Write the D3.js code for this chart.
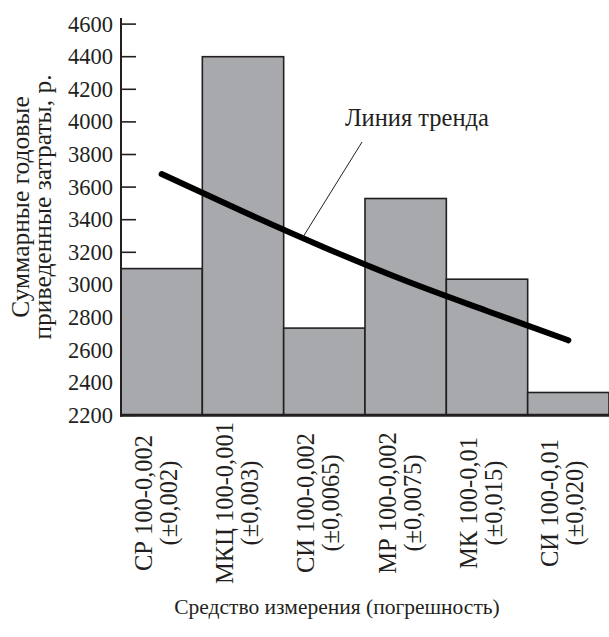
<!DOCTYPE html>
<html>
<head>
<meta charset="utf-8">
<script src="https://cdn.jsdelivr.net/npm/d3@7"></script>
<style>
  html, body { margin: 0; padding: 0; background: #fff; }
  svg { display: block; }
  svg text { font-family: "Liberation Serif", "Times New Roman", "DejaVu Serif", serif; fill: #231f20; }
</style>
</head>
<body>
<div id="chart"></div>
<script>
// ---- data ----
const categories = [
  ["СР 100-0,002", "(±0,002)"],
  ["МКЦ 100-0,001", "(±0,003)"],
  ["СИ 100-0,002", "(±0,0065)"],
  ["МР 100-0,002", "(±0,0075)"],
  ["МК 100-0,01", "(±0,015)"],
  ["СИ 100-0,01", "(±0,020)"]
];
const costs = [3100, 4400, 2735, 3530, 3035, 2340];
const trend = [3680, 3450, 3230, 3025, 2840, 2660];
const yTicks = [2200, 2400, 2600, 2800, 3000, 3200, 3400, 3600, 3800, 4000, 4200, 4400, 4600];
const yTitle = ["Суммарные годовые", "приведенные затраты, р."];
const xTitle = "Средство измерения (погрешность)";
const trendLabel = "Линия тренда";

// ---- layout ----
const W = 609, H = 637;
const mLeft = 121, mRight = 609, mTop = 24.1, mBottom = 415.3;
const FONT = "'Liberation Serif', 'Times New Roman', serif";

const svg = d3.select("#chart").append("svg")
  .attr("width", W).attr("height", H)
  .attr("font-family", FONT);

const x = d3.scaleBand().domain(d3.range(categories.length)).range([mLeft, mRight]).padding(0);
const y = d3.scaleLinear().domain([2200, 4600]).range([mBottom, mTop]);

const ink = "#231f20";

// tick marks (drawn under bars)
svg.append("g").selectAll("line").data(yTicks).join("line")
  .attr("x1", mLeft).attr("x2", mLeft + 15)
  .attr("y1", d => y(d)).attr("y2", d => y(d))
  .attr("stroke", ink).attr("stroke-width", 1.6);

// tick labels
svg.append("g").selectAll("text").data(yTicks).join("text")
  .attr("x", mLeft - 8).attr("y", d => y(d) + 7.5)
  .attr("text-anchor", "end")
  .attr("font-family", FONT)
  .attr("font-size", 22.5)
  .text(d => d);

// bars
svg.append("g").selectAll("rect").data(costs).join("rect")
  .attr("x", (d, i) => x(i))
  .attr("y", d => y(d))
  .attr("width", x.bandwidth())
  .attr("height", d => y(2200) - y(d))
  .attr("fill", "#a7a9ac")
  .attr("stroke", ink)
  .attr("stroke-width", 1.6);

// axes lines
svg.append("line").attr("x1", mLeft).attr("x2", mLeft).attr("y1", mTop - 6).attr("y2", mBottom + 1.5)
  .attr("stroke", ink).attr("stroke-width", 2);
svg.append("line").attr("x1", mLeft - 1).attr("x2", mRight).attr("y1", mBottom).attr("y2", mBottom)
  .attr("stroke", ink).attr("stroke-width", 3);

// trend line
const line = d3.line()
  .x((d, i) => x(i) + x.bandwidth() / 2)
  .y(d => y(d))
  .curve(d3.curveMonotoneX);
svg.append("path").datum(trend)
  .attr("d", line)
  .attr("fill", "none")
  .attr("stroke", "#000")
  .attr("stroke-width", 6)
  .attr("stroke-linecap", "round");

// trend annotation
svg.append("line")
  .attr("x1", 362).attr("y1", 142).attr("x2", 303).attr("y2", 237)
  .attr("stroke", ink).attr("stroke-width", 1);
svg.append("text")
  .attr("x", 345).attr("y", 126)
  .attr("font-family", FONT)
  .attr("font-size", 24.5)
  .text(trendLabel);

// x category labels (rotated)
const xl = svg.append("g").selectAll("text").data(categories).join("text")
  .attr("transform", (d, i) => `translate(${x(i) + x.bandwidth() / 2},503) rotate(-90)`)
  .attr("text-anchor", "middle")
  .attr("font-family", FONT)
  .attr("font-size", 24.5);
xl.append("tspan").attr("x", 0).attr("y", -10).text(d => d[0]);
xl.append("tspan").attr("x", 0).attr("y", 15).text(d => d[1]);

// y title
const yt = svg.append("text")
  .attr("transform", "translate(0,207) rotate(-90)")
  .attr("text-anchor", "middle")
  .attr("font-family", FONT)
  .attr("font-size", 25.5);
yt.append("tspan").attr("x", 0).attr("y", 29).text(yTitle[0]);
yt.append("tspan").attr("x", 0).attr("y", 51).text(yTitle[1]);

// x title
svg.append("text")
  .attr("x", 337).attr("y", 614)
  .attr("text-anchor", "middle")
  .attr("font-family", FONT)
  .attr("font-size", 21.5)
  .text(xTitle);
</script>
</body>
</html>
